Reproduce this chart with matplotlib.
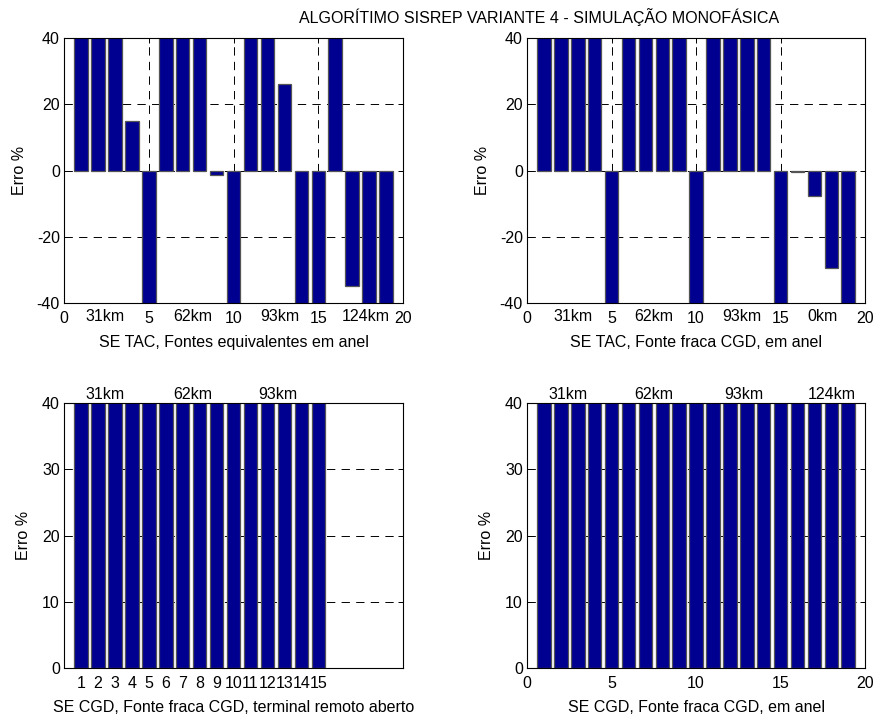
import matplotlib
matplotlib.use("Agg")
import matplotlib.pyplot as plt

plt.rcParams['font.family'] = ['Liberation Sans', 'DejaVu Sans']
plt.rcParams['font.size'] = 11.5
plt.rcParams['lines.scale_dashes'] = False
plt.rcParams['axes.unicode_minus'] = False

# valores de erro (%) - barras que passam de +/-40 foram cortadas no grafico original
tl_vals = [50, 50, 50, 15, -50, 50, 50, 50, -1.5, -50, 50, 50, 26, -50, -50, 50, -35, -50, -50]
tr_vals = [50, 50, 50, 50, -50, 50, 50, 50, 50, -50, 50, 50, 50, 50, -50, -0.5, -7.7, -29.5, -50]
bl_vals = [50] * 15
br_vals = [50] * 19

tl_km = ["31km", "62km", "93km", "124km"]
tr_km = ["31km", "62km", "93km", "0km"]
bl_km = ["31km", "62km", "93km"]
br_km = ["31km", "62km", "93km", "124km"]

tl_km_x = [2.4, 7.6, 12.7, 17.8]
tr_km_x = [2.7, 7.5, 12.7, 17.5]
bl_km_x = [2.4, 7.6, 12.6]
br_km_x = [2.4, 7.5, 12.8, 18.0]

bar_color = "#000090"
edge_color = "#555555"

fig = plt.figure(figsize=(8.77, 7.17), dpi=100)

ax_tl = fig.add_axes([0.073, 0.5774, 0.3866, 0.3696])
ax_tr = fig.add_axes([0.601, 0.5774, 0.3854, 0.3696])
ax_bl = fig.add_axes([0.073, 0.0683, 0.3866, 0.3696])
ax_br = fig.add_axes([0.601, 0.0683, 0.3854, 0.3696])


def style(ax, vals, ylim, yticks):
    x = range(1, len(vals) + 1)
    ax.bar(x, vals, width=0.8, color=bar_color, edgecolor=edge_color, linewidth=0.9, zorder=2)
    ax.set_xlim(0, 20)
    ax.set_ylim(*ylim)
    ax.set_yticks(yticks)
    ax.set_axisbelow(True)
    ax.grid(True, color="black", linewidth=0.7, linestyle=(0, (6, 4.5)))
    ax.tick_params(direction="in", length=3.5, top=True, right=True, width=0.7, pad=3)
    ax.tick_params(axis="x", pad=6)
    for s in ax.spines.values():
        s.set_linewidth(0.8)


style(ax_tl, tl_vals, (-40, 40), [-40, -20, 0, 20, 40])
style(ax_tr, tr_vals, (-40, 40), [-40, -20, 0, 20, 40])
style(ax_bl, bl_vals, (0, 40), [0, 10, 20, 30, 40])
style(ax_br, br_vals, (0, 40), [0, 10, 20, 30, 40])

for ax in (ax_tl, ax_tr, ax_br):
    ax.set_xticks([0, 5, 10, 15, 20])
ax_bl.set_xticks(range(1, 16))
ax_bl.xaxis.grid(False)

ax_tl.set_ylabel("Erro %", labelpad=7)
ax_tr.set_ylabel("Erro %", labelpad=7)
ax_bl.set_ylabel("Erro %", labelpad=8)
ax_br.set_ylabel("Erro %", labelpad=8)

ax_tl.set_xlabel("SE TAC, Fontes equivalentes em anel", labelpad=6)
ax_tr.set_xlabel("SE TAC, Fonte fraca CGD, em anel", labelpad=6)
ax_bl.set_xlabel("SE CGD, Fonte fraca CGD, terminal remoto aberto", labelpad=6)
ax_br.set_xlabel("SE CGD, Fonte fraca CGD, em anel", labelpad=6)

# rotulos de distancia
for ax, labels, xs, below in ((ax_tl, tl_km, tl_km_x, True), (ax_tr, tr_km, tr_km_x, True),
                              (ax_bl, bl_km, bl_km_x, False), (ax_br, br_km, br_km_x, False)):
    for lab, xv in zip(labels, xs):
        if below:
            ax.annotate(lab, xy=(xv, 0), xycoords=("data", "axes fraction"),
                        xytext=(0, -4), textcoords="offset points",
                        ha="center", va="top")
        else:
            ax.annotate(lab, xy=(xv, 1), xycoords=("data", "axes fraction"),
                        xytext=(0, 1), textcoords="offset points",
                        ha="center", va="bottom")

fig.text(0.615, 0.976, "ALGORÍTIMO SISREP VARIANTE 4 - SIMULAÇÃO MONOFÁSICA",
         ha="center", va="center")

fig.savefig("out.png", dpi=100)
